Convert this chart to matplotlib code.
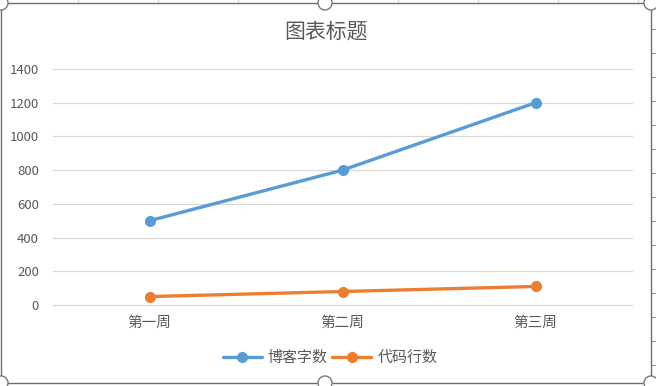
import matplotlib.pyplot as plt
from matplotlib.patches import Rectangle, Ellipse
from matplotlib.lines import Line2D

plt.rcParams['font.family'] = ['Noto Sans CJK SC', 'DejaVu Sans']

categories = ["第一周", "第二周", "第三周"]
blog_words = [500, 800, 1200]
code_lines = [50, 80, 110]
series_names = ["博客字数", "代码行数"]
yticks = [0, 200, 400, 600, 800, 1000, 1200, 1400]

W, H = 656, 386
TEXT = "#595959"
BLUE = "#5b9bd5"
ORANGE = "#ed7d31"

fig = plt.figure(figsize=(W / 100, H / 100), dpi=100)
fig.patch.set_facecolor("white")


def fx(px):
    return px / W


def fy(py):
    return 1 - py / H


# sheet cell lines visible around the chart frame
for x in range(78, 651, 80):
    fig.add_artist(Line2D([fx(x), fx(x)], [fy(0), fy(3)], color="#d4d4d4", lw=0.8, zorder=0))
for y in range(5, 386, 24):
    fig.add_artist(Line2D([fx(651), fx(656)], [fy(y), fy(y)], color="#9a9a9a", lw=0.8, zorder=0))

# chart frame
fig.add_artist(Rectangle((fx(1), fy(383)), fx(650), 380 / H, facecolor="white",
                         edgecolor="#6e6e6e", lw=1.0, zorder=0.5))
for hx, hy in [(1, 3), (325, 3), (651, 3), (1, 383), (325, 383), (651, 383)]:
    fig.add_artist(Ellipse((fx(hx), fy(hy)), 14 / W, 14 / H, facecolor="white",
                           edgecolor="#7a7a7a", lw=1.0, zorder=5))

ax = fig.add_axes([fx(53), fy(305), fx(579), 236 / H])
ax.set_zorder(2)
ax.set_facecolor("none")
x = range(len(categories))
ax.plot(x, blog_words, color=BLUE, lw=2.4, marker="o", markersize=7, label=series_names[0],
        solid_capstyle="round")
ax.plot(x, code_lines, color=ORANGE, lw=2.4, marker="o", markersize=7, label=series_names[1],
        solid_capstyle="round")

ax.set_xlim(-0.5, len(categories) - 0.5)
ax.set_ylim(0, 1400)
ax.set_yticks(yticks)
ax.set_xticks(list(x))
ax.set_xticklabels(categories)
ax.grid(axis="y", color="#d9d9d9", lw=0.9)
for gl in ax.get_ygridlines():
    gl.set_clip_on(False)
ax.set_axisbelow(True)
for s in ax.spines.values():
    s.set_visible(False)
ax.tick_params(axis="both", length=0, colors=TEXT, labelsize=9.5)
ax.tick_params(axis="x", pad=8, labelsize=10.5)
ax.tick_params(axis="y", pad=10)

fig.text(fx(326), fy(32), "图表标题", ha="center", va="center", fontsize=15, color=TEXT,
         zorder=3)

leg = fig.legend(loc="center", bbox_to_anchor=(fx(330), fy(358)), ncol=2, frameon=False,
                 fontsize=10.8, labelcolor=TEXT, handlelength=2.6, columnspacing=0.3,
                 handletextpad=0.4)
leg.set_zorder(3)

fig.savefig("out.png", dpi=100)
